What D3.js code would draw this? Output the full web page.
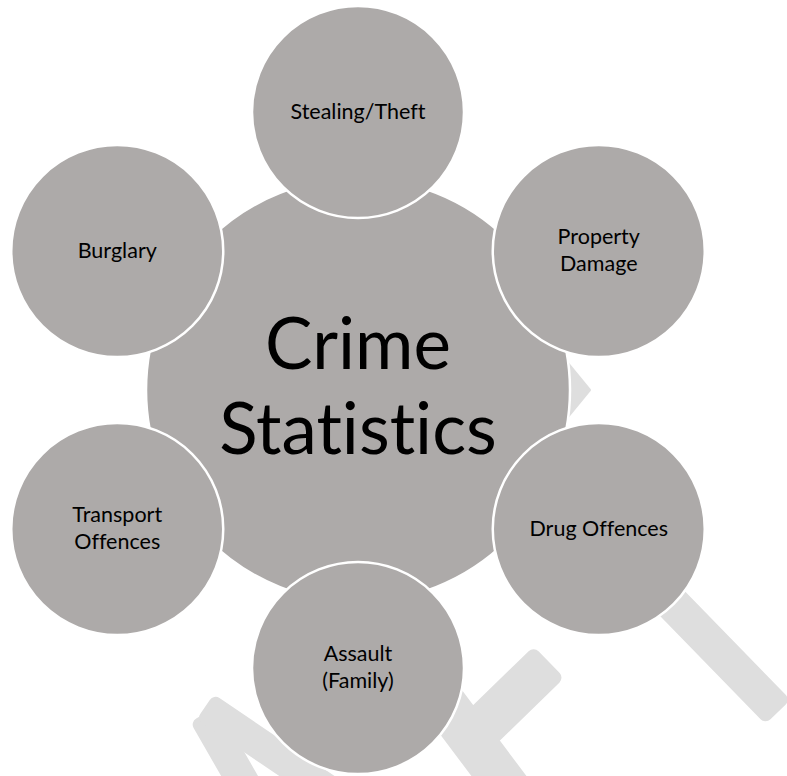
<!DOCTYPE html>
<html>
<head>
<meta charset="utf-8">
<script src="https://cdn.jsdelivr.net/npm/d3@7"></script>
<style>
  html, body { margin: 0; padding: 0; background: #ffffff; }
  svg { display: block; }
  text { font-variant-ligatures: none; font-feature-settings: "liga" 0, "clig" 0; }
</style>
</head>
<body>
<svg id="chart" width="787" height="776"></svg>
<script>
// ---- data ----
const centerTitle = ["Crime", "Statistics"];
const categories = [
  ["Stealing/Theft"],
  ["Property", "Damage"],
  ["Drug Offences"],
  ["Assault", "(Family)"],
  ["Transport", "Offences"],
  ["Burglary"]
];

// ---- layout ----
const W = 787, H = 776;
const cx = 358, cy = 390;
const centerR = 212;
const satR = 106;
const orbit = 278;
const fillCol = "#adaaa9";
const wmCol = "#dedede";
const font = "Lato, 'Open Sans', sans-serif";

const svg = d3.select("#chart");

// background watermark (light bands)
const wm = svg.append("g");
const wmBands = [
  { p0: [204, 714], p1: [262, 815], w: 32 },
  { p0: [205, 707], p1: [335, 795], w: 31 },
  { p0: [549, 662], p1: [470, 739], w: 44 },
  { p0: [432, 687], p1: [520, 804], w: 44 },
  { p0: [630, 560], p1: [778, 712], w: 35 }
];
wm.selectAll("rect.band").data(wmBands).join("rect")
  .attr("class", "band")
  .attr("x", 0)
  .attr("y", d => -d.w / 2)
  .attr("width", d => Math.hypot(d.p1[0] - d.p0[0], d.p1[1] - d.p0[1]))
  .attr("height", d => d.w)
  .attr("rx", 7)
  .attr("fill", wmCol)
  .attr("transform", d => `translate(${d.p0[0]},${d.p0[1]}) rotate(${Math.atan2(d.p1[1] - d.p0[1], d.p1[0] - d.p0[0]) * 180 / Math.PI})`);
wm.append("path")
  .attr("d", d3.line()([[549, 340], [590, 390], [549, 440]]) + "Z")
  .attr("fill", wmCol)
  .attr("stroke", wmCol)
  .attr("stroke-width", 2)
  .attr("stroke-linejoin", "round");

// angle scale: index -> angle (degrees, clockwise from top)
const angle = d3.scaleLinear().domain([0, categories.length]).range([0, 360]);

// central circle
svg.append("circle")
  .attr("cx", cx).attr("cy", cy).attr("r", centerR)
  .attr("fill", fillCol)
  .attr("stroke", "#ffffff").attr("stroke-width", 2.5);

const titleSize = 71, titleLH = 85, titleOff = 21.5;
svg.append("text")
  .attr("text-anchor", "middle")
  .attr("font-family", font)
  .attr("font-size", titleSize)
  .attr("fill", "#000")
  .selectAll("tspan").data(centerTitle).join("tspan")
  .attr("x", cx)
  .attr("y", (d, i) => cy + (i - (centerTitle.length - 1) / 2) * titleLH + titleOff)
  .text(d => d);

// satellites
const sats = svg.selectAll("g.sat").data(categories).join("g")
  .attr("class", "sat")
  .attr("transform", (d, i) => {
    const a = angle(i) * Math.PI / 180;
    return `translate(${cx + orbit * Math.sin(a)},${cy - orbit * Math.cos(a)})`;
  });

sats.append("circle")
  .attr("r", satR)
  .attr("fill", fillCol)
  .attr("stroke", "#ffffff")
  .attr("stroke-width", 2.5);

const labSize = 21.5, labLH = 26.5, labOff = 6.5;
sats.append("text")
  .attr("text-anchor", "middle")
  .attr("font-family", font)
  .attr("font-size", labSize)
  .attr("fill", "#000")
  .selectAll("tspan").data(d => d.map((t, i) => ({t, i, n: d.length}))).join("tspan")
  .attr("x", 0)
  .attr("y", d => (d.i - (d.n - 1) / 2) * labLH + labOff)
  .text(d => d.t);
</script>
</body>
</html>
